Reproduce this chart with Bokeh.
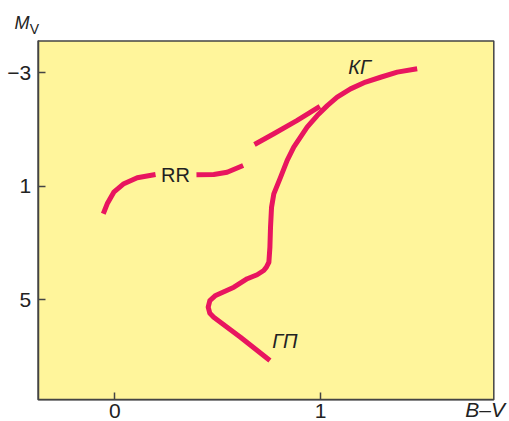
from bokeh.plotting import figure
from bokeh.models import Range1d, FixedTicker, Label
from bokeh.embed import file_html
from bokeh.resources import INLINE

# Main sequence -> turnoff -> subgiant -> red giant branch (B-V, M_V)
ms_bv = [0.754, 0.611, 0.481, 0.462, 0.454, 0.462, 0.490, 0.579, 0.644, 0.692,
         0.724, 0.737, 0.749, 0.754, 0.757, 0.762, 0.773, 0.806, 0.838, 0.870,
         0.935, 0.984, 1.033, 1.081, 1.146, 1.219, 1.292, 1.373, 1.470]
ms_mv = [7.13, 6.31, 5.61, 5.47, 5.25, 5.02, 4.84, 4.55, 4.25, 4.11,
         3.96, 3.84, 3.67, 3.14, 2.43, 1.73, 1.26, 0.67, 0.08, -0.39,
         -1.09, -1.50, -1.85, -2.15, -2.44, -2.68, -2.85, -3.03, -3.15]

# Horizontal branch, three pieces (gap under the RR label)
hb1_bv = [-0.056, -0.037, -0.005, 0.044, 0.109, 0.198]
hb1_mv = [1.96, 1.61, 1.20, 0.90, 0.69, 0.58]
hb2_bv = [0.397, 0.481, 0.546, 0.624]
hb2_mv = [0.59, 0.58, 0.50, 0.26]
hb3_bv = [0.679, 0.773, 0.887, 0.997]
hb3_mv = [-0.48, -0.86, -1.33, -1.82]

x_ticks = [0, 1]
y_ticks = [-3, 1, 5]
y_tick_labels = {-3: "\u22123", 1: "1", 5: "5"}

# extent of the plotting area (data units)
BV_MIN, BV_MAX = -0.373, 1.8425
MV_BOTTOM, MV_TOP = 8.517, -4.128

RED = "#E8155F"
YELLOW = "#FFF59B"
INK = "#222222"
FRAME = "#444444"
FONT = "Liberation Sans"

p = figure(width=509, height=421, output_backend="svg", toolbar_location=None,
           x_range=Range1d(-0.5557, 1.9188), y_range=Range1d(9.282, -5.555),
           min_border=0)
p.title.visible = False
p.background_fill_color = "white"
p.border_fill_color = "white"
p.outline_line_color = None
p.grid.visible = False

# plotting area
p.quad(left=BV_MIN, right=BV_MAX, bottom=MV_BOTTOM, top=MV_TOP,
       fill_color=YELLOW, line_color=FRAME, line_width=1.5)

p.xaxis.fixed_location = MV_BOTTOM
p.xaxis.bounds = (BV_MIN, BV_MAX)
p.yaxis.fixed_location = BV_MIN
p.yaxis.bounds = (MV_TOP, MV_BOTTOM)

for ax in (p.xaxis[0], p.yaxis[0]):
    ax.axis_line_color = FRAME
    ax.axis_line_width = 1.5
    ax.major_tick_in = 7
    ax.major_tick_out = 0
    ax.major_tick_line_color = FRAME
    ax.major_tick_line_width = 1.5
    ax.minor_tick_line_color = None
    ax.major_label_text_font = FONT
    ax.major_label_text_font_size = "21px"
    ax.major_label_text_color = INK

p.xaxis.ticker = FixedTicker(ticks=x_ticks, minor_ticks=[])
p.yaxis.ticker = FixedTicker(ticks=y_ticks, minor_ticks=[])
p.yaxis.major_label_overrides = y_tick_labels
p.xaxis.major_label_standoff = 4
p.yaxis.major_label_standoff = 7

kw = dict(line_color=RED, line_width=5, line_join="round", line_cap="butt")
p.line(ms_bv, ms_mv, **kw)
p.line(hb1_bv, hb1_mv, **kw)
p.line(hb2_bv, hb2_mv, **kw)
p.line(hb3_bv, hb3_mv, **kw)

def lab(x, y, t, size="20px", style="normal", align="center", baseline="middle"):
    p.add_layout(Label(x=x, y=y, text=t, text_font=FONT, text_font_size=size,
                       text_font_style=style, text_color=INK,
                       text_align=align, text_baseline=baseline))

lab(0.295, 0.61, "RR")
lab(1.190, -3.20, "\u041a\u0413", style="italic")
lab(0.827, 6.46, "\u0413\u041f", style="italic")
lab(-0.4876, -4.759, "M", size="18px", style="italic", align="left")
lab(-0.4133, -4.558, "V", size="14px", align="left")
lab(1.897, 8.85, "B\u2013V", size="21px", style="italic", align="right")

open("out.html", "w").write(file_html(p, INLINE))
